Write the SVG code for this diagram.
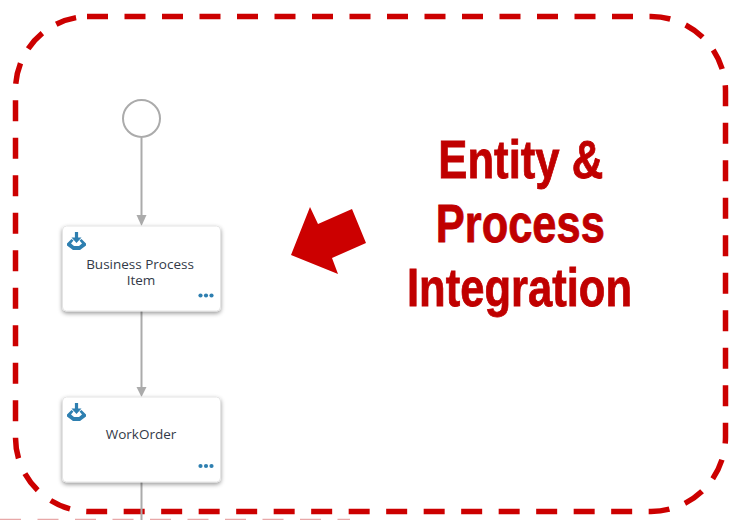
<svg xmlns="http://www.w3.org/2000/svg" width="730" height="520" viewBox="0 0 730 520">
<style>
.frame{fill:none;stroke:#cc0000;stroke-width:5.5;stroke-dasharray:21 16.5}
.edge{fill:none;stroke:#ababab;stroke-width:2}
.head{fill:#ababab}
.card{fill:#fff;stroke:#e4e4e4;stroke-width:1;filter:url(#sh)}
.lbl{font-family:"Open Sans","Noto Sans",sans-serif;font-size:13.5px;fill:#333a48;text-anchor:middle}
.big{font-family:"Liberation Sans",Arial,sans-serif;font-weight:bold;font-size:53px;fill:#c00000;stroke:#c00000;stroke-width:0.8;text-anchor:middle}
.ico{fill:#2e7fb0}
</style>
<defs>
<filter id="sh" x="-10%" y="-10%" width="120%" height="125%"><feDropShadow dx="0" dy="2" stdDeviation="2.2" flood-color="#000" flood-opacity="0.4"/></filter>
<g id="icon"><path class="ico" d="M-5 -3L-9.500 1.500V3.500L-3.500 8H3.500L9.500 3.500V1.500L5 -3L3 -1.500L5.500 1.500L2.500 4H-2.500L-5.500 1.500L-3 -1.500Z"/><path class="ico" d="M-1.600 -10H1.600V-4.500H5L0 1L-5 -4.500H-1.600Z"/></g>
<g id="dots"><circle class="ico" cx="-5.500" r="2.100"/><circle class="ico" cx="0" r="2.100"/><circle class="ico" cx="5.500" r="2.100"/></g>
</defs>
<path class="frame" d="M87 16.500H651A74.500 74.500 0 0 1 725.500 91V437A74.500 74.500 0 0 1 651 511.500H89A74 74 0 0 1 15.500 437.500V90A73.500 73.500 0 0 1 89 16.500Z"/>
<path d="M0 519.500H350" fill="none" stroke="#e8a8a8" stroke-width="1.500" stroke-dasharray="21 16.500"/>
<g id="connectors">
<path class="edge" d="M141.500 138V216"/><path class="head" d="M136.500 215H146.500L141.500 226Z"/>
<path class="edge" d="M141.500 311V388"/><path class="head" d="M136.500 387H146.500L141.500 397Z"/>
<path class="edge" d="M141.500 482V520"/>
</g>
<g id="start"><circle cx="141.500" cy="118.500" r="18.500" fill="#fff" stroke="#ababab" stroke-width="2"/></g>
<g id="node-business-process-item">
<rect class="card" x="62.500" y="226" width="158" height="85" rx="4"/>
<use href="#icon" x="76.500" y="242"/>
<text class="lbl"><tspan x="140" y="269">Business Process</tspan><tspan x="141" y="285">Item</tspan></text>
<use href="#dots" x="206" y="295.500"/>
</g>
<g id="node-workorder">
<rect class="card" x="62.500" y="397" width="158" height="85" rx="4"/>
<use href="#icon" x="76.500" y="413"/>
<text class="lbl" x="141" y="439">WorkOrder</text>
<use href="#dots" x="206" y="466"/>
</g>
<path id="arrow" d="M310 207L318 224L352 209L366 243L332 258L338 274L291 255Z" fill="#cc0000"/>
<g id="title">
<text class="big" x="520.800" y="177.700" textLength="165" lengthAdjust="spacingAndGlyphs">Entity &amp;</text>
<text class="big" x="520.300" y="241.700" textLength="169" lengthAdjust="spacingAndGlyphs">Process</text>
<text class="big" x="519.500" y="305.700" textLength="225" lengthAdjust="spacingAndGlyphs">Integration</text>
</g>
</svg>
